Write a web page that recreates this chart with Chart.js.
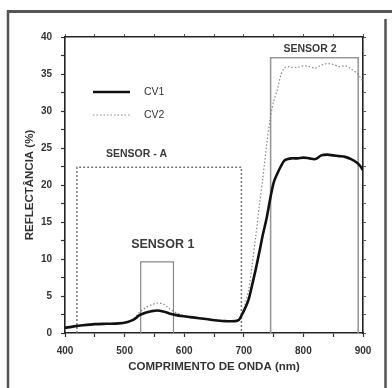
<!DOCTYPE html>
<html>
<head>
<meta charset="utf-8">
<script src="https://cdn.jsdelivr.net/npm/chart.js@4/dist/chart.umd.min.js"></script>
<style>
  html, body { margin: 0; padding: 0; background: #fff; }
  canvas { display: block; }
</style>
</head>
<body>
<canvas id="chart" width="392" height="388"></canvas>
<script>
// spectral reflectance, two cultivars
const wavelengths = [400, 415, 430, 450, 470, 490, 505, 515, 525, 535, 545, 555, 565, 575, 585, 595, 610, 625, 640, 655, 670, 685, 692, 697, 702, 708, 714, 720, 726, 732, 738, 744, 750, 756, 762, 768, 774, 780, 790, 800, 810, 820, 830, 840, 850, 860, 870, 880, 890, 895, 900];
const cv1Values = [0.7, 0.9, 1.05, 1.2, 1.25, 1.3, 1.5, 1.8, 2.4, 2.75, 2.95, 3.05, 2.9, 2.65, 2.45, 2.3, 2.15, 2.0, 1.85, 1.7, 1.6, 1.6, 1.8, 2.5, 3.3, 4.5, 6.5, 8.6, 10.9, 13.3, 15.4, 18.0, 20.3, 21.5, 22.5, 23.3, 23.5, 23.6, 23.6, 23.7, 23.6, 23.5, 24.0, 24.1, 24.0, 23.9, 23.8, 23.5, 23.0, 22.6, 22.0];
const cv2Values = [0.7, 0.9, 1.05, 1.2, 1.25, 1.3, 1.5, 1.9, 2.8, 3.4, 3.8, 4.05, 3.9, 3.3, 2.8, 2.5, 2.25, 2.05, 1.9, 1.75, 1.65, 1.65, 1.9, 2.6, 3.8, 5.8, 9.2, 13.0, 17.2, 21.0, 25.2, 28.8, 31.3, 32.8, 34.8, 35.8, 36.0, 35.9, 35.9, 36.1, 36.0, 35.8, 36.2, 36.4, 36.3, 36.0, 36.1, 35.7, 35.1, 34.6, 34.0];
const seriesNames = ['CV1', 'CV2'];

// sensor bands: SENSOR - A, SENSOR 1, SENSOR 2
const sensorNames = ['SENSOR - A', 'SENSOR 1', 'SENSOR 2'];
const sensorFrom = [420, 527, 745];
const sensorTo = [696, 582, 892];
const sensorTop = [22.4, 9.6, 37.2];

const xTicks = [400, 500, 600, 700, 800, 900];
const yTicks = [0, 5, 10, 15, 20, 25, 30, 35, 40];

const FONT = "Arial, 'Liberation Sans', sans-serif";
const INK = '#333';

const pts = vals => wavelengths.map((w, i) => ({ x: w, y: vals[i] }));
const box = i => [
  { x: sensorFrom[i], y: 0 }, { x: sensorFrom[i], y: sensorTop[i] },
  { x: sensorTo[i], y: sensorTop[i] }, { x: sensorTo[i], y: 0 }
];

const boxStyles = [
  { borderColor: '#777', borderWidth: 1.5, borderDash: [2, 2] },
  { borderColor: '#888', borderWidth: 1.2, borderDash: [] },
  { borderColor: '#999', borderWidth: 1.6, borderDash: [] }
];

const datasets = [
  { label: seriesNames[0], data: pts(cv1Values), borderColor: '#111', borderWidth: 2.6, tension: 0.3, pointRadius: 0, order: 0 },
  { label: seriesNames[1], data: pts(cv2Values), borderColor: '#888', borderWidth: 1.2, borderDash: [1.5, 2], tension: 0.3, pointRadius: 0, order: 0 }
];
sensorNames.forEach((n, i) => {
  datasets.push(Object.assign({ label: n, data: box(i), tension: 0, pointRadius: 0, order: 1 }, boxStyles[i]));
});

// white page + grey frame around the figure
const framePlugin = {
  id: 'frame',
  beforeDraw(chart) {
    const c = chart.ctx;
    c.save();
    c.fillStyle = '#fff';
    c.fillRect(0, 0, chart.width, chart.height);
    c.strokeStyle = '#555';
    c.lineWidth = 3;
    c.beginPath(); c.moveTo(7, 11.5); c.lineTo(392, 11.5); c.stroke();
    c.lineWidth = 2.5;
    c.beginPath(); c.moveTo(8, 10); c.lineTo(8, 388); c.stroke();
    c.beginPath(); c.moveTo(385.5, 19); c.lineTo(385.5, 388); c.stroke();
    c.restore();
  }
};

// legend and sensor captions
const notesPlugin = {
  id: 'notes',
  afterDatasetsDraw(chart) {
    const c = chart.ctx;
    const x = chart.scales.x, y = chart.scales.y;
    c.save();
    // legend
    [0, 1].forEach(i => {
      const ds = chart.data.datasets[i];
      const yy = 92 + i * 23;
      c.strokeStyle = ds.borderColor;
      c.lineWidth = ds.borderWidth;
      c.setLineDash(ds.borderDash || []);
      c.beginPath(); c.moveTo(93, yy); c.lineTo(130, yy); c.stroke();
      c.setLineDash([]);
      c.fillStyle = INK;
      c.font = '10.5px ' + FONT;
      c.textAlign = 'left';
      c.textBaseline = 'middle';
      c.fillText(ds.label, 144, yy);
    });
    // sensor captions
    const spots = [[520, 24.2, 'bold 10.5px '], [564, 12.0, 'bold 12.5px '], [811, 38.3, 'bold 10.5px ']];
    c.fillStyle = '#3a3a3a';
    c.textAlign = 'center';
    c.textBaseline = 'middle';
    spots.forEach((s, i) => {
      c.font = s[2] + FONT;
      c.fillText(sensorNames[i], x.getPixelForValue(s[0]), y.getPixelForValue(s[1]));
    });
    c.restore();
  }
};

const tickFont = { family: FONT, size: 10, weight: 'bold' };
const titleFont = { family: FONT, size: 11.5, weight: 'bold' };

new Chart(document.getElementById('chart'), {
  type: 'line',
  data: { datasets: datasets },
  plugins: [framePlugin, notesPlugin],
  options: {
    responsive: false,
    animation: false,
    layout: { padding: { left: 0, top: 34, right: 26, bottom: 0 } },
    plugins: { legend: { display: false }, tooltip: { enabled: false } },
    scales: {
      x: {
        type: 'linear', min: 400, max: 900,
        afterFit: s => { s.height = 55; },
        ticks: { stepSize: 50, autoSkip: false, maxRotation: 0, padding: 8, color: INK, font: tickFont,
          callback: v => xTicks.includes(v) ? String(v) : '' },
        grid: { drawOnChartArea: false, tickLength: 4, color: '#333', tickWidth: 1.2 },
        border: { display: true, color: '#222', width: 1.6 },
        title: { display: true, text: 'COMPRIMENTO DE ONDA (nm)', color: INK, font: titleFont, padding: { top: 0, bottom: 14 } }
      },
      x2: {
        type: 'linear', position: 'top', min: 400, max: 900,
        afterFit: s => { s.height = 3; },
        ticks: { display: false, stepSize: 50 },
        grid: { drawOnChartArea: false, tickLength: 3, color: '#555' },
        border: { display: true, color: '#222', width: 1.6 }
      },
      y: {
        min: 0, max: 40,
        afterFit: s => { s.width = 65; },
        ticks: { stepSize: 2.5, autoSkip: false, padding: 9, color: INK, font: tickFont,
          callback: v => yTicks.includes(v) ? String(v) : '' },
        grid: { drawOnChartArea: false, tickLength: 4, color: '#333', tickWidth: 1.2 },
        border: { display: true, color: '#222', width: 1.6 },
        title: { display: true, text: 'REFLECTÂNCIA (%)', color: INK, font: titleFont, padding: { top: 23, bottom: 0 } }
      },
      y2: {
        position: 'right', min: 0, max: 40,
        afterFit: s => { s.width = 3; },
        ticks: { display: false, stepSize: 2.5 },
        grid: { drawOnChartArea: false, tickLength: 3, color: '#555' },
        border: { display: true, color: '#222', width: 1.6 }
      }
    }
  }
});
</script>
</body>
</html>
